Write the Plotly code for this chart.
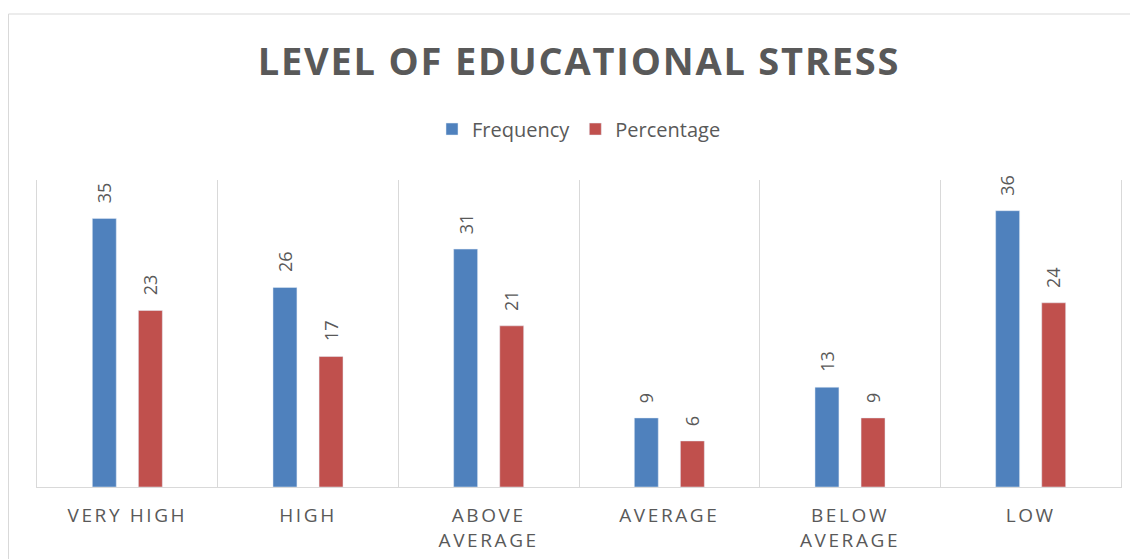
"""
Level of educational stress - grouped bar chart
"""

import plotly.graph_objects as go

# Data
categories = ['VERY HIGH', 'HIGH', 'ABOVE<br>AVERAGE', 'AVERAGE', 'BELOW<br>AVERAGE', 'LOW']
frequency = [35, 26, 31, 9, 13, 36]
percentage = [23, 17, 21, 6, 9, 24]

# Colors
BLUE = '#4F81BD'
RED = '#C0504D'
TEXT = '#595959'
GRID = '#D9D9D9'
FONT = 'Open Sans'

fig = go.Figure()

fig.add_trace(go.Bar(x=categories, y=frequency, name='Frequency', marker_color=BLUE))
fig.add_trace(go.Bar(x=categories, y=percentage, name='Percentage', marker_color=RED))

# Rotated value labels sitting a little above each bar
for cat, f, p in zip(categories, frequency, percentage):
    for val, shift in ((f, -23), (p, 23)):
        fig.add_annotation(
            x=cat, y=val, xref='x', yref='y',
            text=str(val), showarrow=False, textangle=-90,
            xanchor='center', yanchor='bottom',
            xshift=shift, yshift=13,
            font=dict(family=FONT, size=18, color=TEXT),
        )

# Outer chart border
fig.add_shape(
    type='rect', xref='paper', yref='paper',
    x0=-0.0263, x1=1.02, y0=-0.25, y1=1.5407,
    line=dict(color=GRID, width=1), fillcolor='rgba(0,0,0,0)', layer='below',
)

fig.update_layout(
    width=1130,
    height=551,
    margin=dict(l=29, r=17, t=172, b=72),
    paper_bgcolor='white',
    plot_bgcolor='white',
    barmode='group',
    bargap=0.49,
    bargroupgap=0.48,
    showlegend=True,
    title=dict(
        text='<b>LEVEL OF EDUCATIONAL STRESS</b>',
        x=0.5, xref='paper', xanchor='center',
        y=0.902, yanchor='middle',
        font=dict(family=FONT, size=38, color=TEXT),
    ),
    legend=dict(
        orientation='h',
        x=0.5, xanchor='center',
        y=1.166, yanchor='middle',
        font=dict(family=FONT, size=20, color=TEXT),
        itemwidth=30,
    ),
    xaxis=dict(
        type='category',
        tickson='boundaries',
        automargin=False,
        showgrid=True,
        gridcolor=GRID,
        gridwidth=1,
        showline=True,
        linecolor=GRID,
        linewidth=1,
        ticks='',
        tickfont=dict(family=FONT, size=19, color=TEXT),
        ticklabelstandoff=11,
    ),
    yaxis=dict(
        range=[0, 40],
        automargin=False,
        showgrid=False,
        zeroline=False,
        showticklabels=False,
        showline=True,
        mirror=True,
        linecolor=GRID,
        linewidth=1,
    ),
)

# Excel-style letter spacing for the title and category labels
letter_spacing_js = """
var gd = document.getElementById('{plot_id}');
gd.querySelectorAll('.xtick text').forEach(function (t) { t.style.letterSpacing = '2.6px'; });
var ttl = gd.querySelector('.gtitle');
if (ttl) { ttl.style.letterSpacing = '1.8px'; }
"""

fig.write_html("out.html", post_script=letter_spacing_js)
